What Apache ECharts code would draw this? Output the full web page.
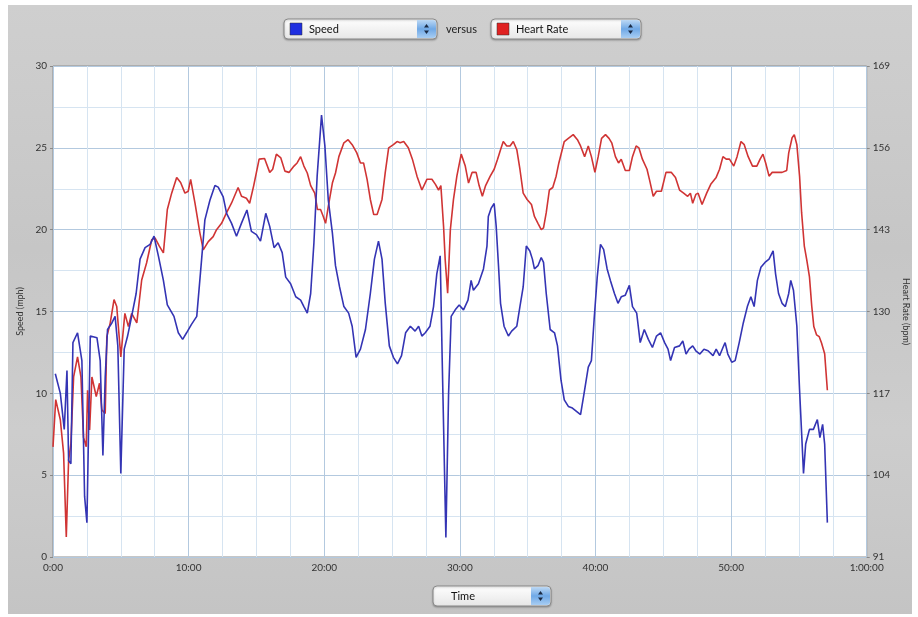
<!DOCTYPE html>
<html>
<head>
<meta charset="utf-8">
<script src="https://cdn.jsdelivr.net/npm/echarts@6/dist/echarts.min.js"></script>
<style>
html,body{margin:0;padding:0;background:#fff;}
#panel{position:absolute;left:8px;top:5px;width:904px;height:609px;
background:linear-gradient(180deg,#cfcfcf 0%,#c6c6c6 40%,#cdcdcd 70%,#c4c4c4 100%);}
#chart{position:absolute;left:0;top:0;width:918px;height:617px;}
</style>
</head>
<body>
<div id="panel"></div>
<div id="chart"></div>
<script>
// Time in minutes
const speedTime = [0.17,0.54,0.83,1.03,1.15,1.32,1.47,1.81,2.13,2.33,2.5,2.75,3.24,3.48,3.68,3.85,4.02,4.34,4.58,4.78,5.0,5.25,5.5,5.8,6.13,6.42,6.79,7.16,7.45,7.77,8.14,8.43,8.92,9.24,9.56,9.85,10.2,10.6,10.96,11.2,11.57,11.94,12.18,12.55,12.8,13.16,13.53,13.9,14.3,14.63,15.0,15.3,15.69,15.98,16.3,16.6,16.9,17.16,17.52,17.9,18.26,18.5,18.75,19.0,19.24,19.48,19.8,20.05,20.3,20.6,20.83,21.13,21.45,21.8,22.06,22.35,22.67,23.04,23.4,23.7,24.0,24.26,24.5,24.8,25.1,25.4,25.7,26.0,26.35,26.7,26.96,27.2,27.45,27.8,28.06,28.3,28.55,28.7,28.97,29.17,29.36,29.66,29.95,30.27,30.6,30.83,31.0,31.37,31.74,32.0,32.1,32.3,32.53,32.68,32.85,33.0,33.26,33.58,33.82,34.2,34.43,34.67,34.9,35.16,35.35,35.5,35.76,36.0,36.17,36.37,36.66,36.98,37.2,37.46,37.7,38.0,38.3,38.6,38.9,39.16,39.47,39.7,39.9,40.13,40.37,40.6,40.86,41.1,41.4,41.66,41.9,42.2,42.5,42.73,43.04,43.3,43.6,43.9,44.2,44.5,44.8,45.1,45.35,45.54,45.83,46.2,46.44,46.68,46.9,47.17,47.4,47.7,48.0,48.3,48.67,48.9,49.15,49.4,49.56,49.76,50.05,50.3,50.6,50.9,51.2,51.46,51.7,51.94,52.2,52.5,52.8,53.1,53.28,53.5,53.76,54.0,54.25,54.4,54.6,54.85,55.05,55.2,55.34,55.5,55.78,56.07,56.36,56.55,56.75,56.9,57.1];
const speedMph = [11.2,10.0,7.8,11.4,5.9,5.7,13.1,13.7,12.0,3.7,2.1,13.5,13.4,12.0,6.2,11.0,13.9,14.3,14.7,12.9,5.1,12.7,13.5,14.7,16.1,18.2,18.9,19.1,19.6,18.4,16.9,15.4,14.7,13.7,13.3,13.7,14.2,14.7,18.2,20.6,21.8,22.7,22.6,22.0,21.0,20.4,19.6,20.4,21.2,19.9,19.7,19.3,21.0,20.2,18.9,19.2,18.6,17.1,16.7,15.9,15.7,15.3,14.9,16.1,19.2,23.3,27.0,25.1,21.8,19.8,17.8,16.5,15.3,14.9,14.1,12.2,12.7,13.9,16.1,18.2,19.3,18.2,15.5,12.9,12.2,11.8,12.3,13.7,14.1,13.8,14.1,13.5,13.7,14.1,15.3,17.3,18.4,12.0,1.2,10.0,14.7,15.1,15.4,15.1,15.7,16.9,16.3,16.7,17.6,19.0,20.8,21.3,21.6,20.2,17.8,15.5,14.1,13.5,13.8,14.1,15.3,16.5,19.0,18.7,18.2,17.6,17.8,18.3,18.0,16.1,13.9,13.7,12.9,10.8,9.6,9.2,9.1,8.9,8.7,10.0,11.6,12.0,14.5,17.1,19.1,18.8,17.6,16.9,16.1,15.5,15.9,16.0,16.6,15.3,14.9,13.1,13.9,13.3,12.8,13.5,13.7,13.1,12.7,12.0,12.8,12.9,13.2,12.4,12.7,12.9,12.6,12.4,12.7,12.6,12.3,12.7,12.3,12.8,13.1,12.4,11.9,12.0,13.1,14.3,15.3,15.9,15.3,16.9,17.7,18.0,18.2,18.7,17.3,16.1,15.5,15.3,16.1,16.9,16.3,14.1,10.2,7.6,5.1,6.9,7.8,7.8,8.4,7.3,8.1,6.9,2.1];
const hrTime = [0,0.2,0.54,0.78,0.98,1.15,1.32,1.52,1.81,2.06,2.25,2.45,2.55,2.7,2.87,3.19,3.43,3.6,3.85,3.97,4.22,4.5,4.7,5.0,5.3,5.56,5.8,6.18,6.54,6.9,7.28,7.52,7.84,8.14,8.43,8.75,9.12,9.41,9.73,9.97,10.15,10.47,10.83,11.08,11.45,11.81,12.06,12.43,12.8,13.16,13.65,13.9,14.26,14.5,14.8,15.2,15.6,15.98,16.2,16.47,16.8,17.1,17.4,17.77,18.0,18.26,18.5,18.75,19.0,19.3,19.5,19.73,19.93,20.1,20.3,20.6,20.83,21.08,21.45,21.76,22.06,22.4,22.67,22.9,23.16,23.4,23.65,23.9,24.26,24.5,24.75,25.1,25.37,25.6,25.86,26.2,26.5,26.84,27.2,27.57,27.94,28.2,28.43,28.6,28.8,28.92,29.1,29.3,29.53,29.78,30.1,30.4,30.64,30.9,31.2,31.42,31.66,31.9,32.0,32.24,32.53,32.78,33.0,33.2,33.46,33.7,33.94,34.2,34.43,34.67,34.96,35.28,35.5,35.76,36.0,36.17,36.37,36.6,36.85,37.1,37.3,37.7,38.0,38.36,38.67,38.9,39.2,39.47,39.7,39.96,40.2,40.45,40.74,41.0,41.2,41.47,41.7,41.9,42.2,42.5,42.73,43.0,43.2,43.46,43.8,44.0,44.26,44.5,44.86,45.2,45.6,45.9,46.2,46.5,46.8,47.0,47.17,47.4,47.57,47.86,48.2,48.5,48.9,49.15,49.4,49.64,49.88,50.2,50.44,50.73,50.97,51.26,51.58,51.9,52.14,52.35,52.55,52.8,53.03,53.4,53.76,54.1,54.25,54.5,54.66,54.85,55.05,55.2,55.4,55.58,55.78,55.95,56.1,56.3,56.5,56.67,56.8,56.9,57.1];
const hrBpm = [108.5,116,112.8,107.5,94.2,106.4,109,119.6,122.8,119.6,110,108.5,117.5,111.2,119.6,116.5,118.6,114.4,113.8,126,128.2,131.9,130.8,122.8,129.7,127.6,129.7,128.2,135,137.7,141.4,141.7,140.4,139.3,146.2,148.8,151.3,150.5,148.8,149.1,151,147.2,142.5,139.8,141.1,141.9,143,144,145.7,147.2,149.7,148.3,148,147.2,150,154.2,154.3,152.1,152.6,155,154.4,152.3,152.1,153.1,153.6,154.6,153.1,152,150,148.8,146.2,146.2,145.1,144,146.7,150.4,152,154.6,156.8,157.3,156.5,155.2,153.6,153.6,151,147.8,145.4,145.4,147.8,152.1,156,156.5,157,156.8,157,156,154.2,151.5,149.3,151,151,150.2,149.3,150,143.5,138.2,132.9,143,147.8,151.5,155,153.1,150.4,152.1,152.1,150,148.3,150,150.2,151.5,152.6,154.2,155.7,157,156.3,156.3,157,155.7,152.6,148.8,147.8,147,145.1,144,143,143.3,145.7,149.3,149.7,151.5,153.6,157,157.5,158.1,157.3,156.3,154.6,156.3,154.6,152.1,154.6,157.5,158.1,157.5,156.8,154.6,153.6,154.2,152.4,152.4,154.6,156.3,156,154.2,152.6,150.8,148.3,149.1,149.1,152.1,152.1,151.3,149.3,148.8,148.3,148.8,147.2,148.6,148.8,147,148.8,150.2,151.3,152.6,154.6,154.2,154.2,153.1,154.6,157,156.5,154.6,153.1,153.1,154.2,155,153.6,151.5,152.1,152.1,152.1,152.4,155.2,157.6,158.1,156.5,151.5,145.7,140.4,138.2,135.5,130.8,127.6,126.3,126,125,125.3,123.3,117.5];
const timeTicks = ['0:00','10:00','20:00','30:00','40:00','50:00','1:00:00'];
const speedTicks = [0,5,10,15,20,25,30];
const hrTicks = [91,104,117,130,143,156,169];

const speedData = speedTime.map((t,i)=>[t,speedMph[i]]);
const hrData = hrTime.map((t,i)=>[t,hrBpm[i]]);

const chart = echarts.init(document.getElementById('chart'), null, {renderer:'canvas'});
const FONT = 'Lato, "DejaVu Sans", sans-serif';

function popup(x,y,w,h,swatch,label){
  const els = [];
  els.push({type:'rect',shape:{x:x,y:y,width:w,height:h,r:4},
    style:{fill:new echarts.graphic.LinearGradient(0,0,0,1,[{offset:0,color:'#ffffff'},{offset:1,color:'#e6e6e6'}]),stroke:'#8a8a8a',lineWidth:1,shadowColor:'rgba(0,0,0,0.25)',shadowBlur:2,shadowOffsetY:1}});
  let tx = x+18;
  if(swatch){
    els.push({type:'rect',shape:{x:x+6,y:y+4,width:12,height:12},style:{fill:swatch,stroke:'#333',lineWidth:0.5}});
    tx = x+25;
  }
  els.push({type:'text',style:{x:tx,y:y+h/2+0.5,text:label,fill:'#111',font:'11px '+FONT,verticalAlign:'middle'}});
  const bx = x+w-20;
  els.push({type:'rect',shape:{x:bx,y:y+1,width:19,height:h-2,r:[0,3,3,0]},
    style:{fill:new echarts.graphic.LinearGradient(0,0,0,1,[{offset:0,color:'#bcd8f4'},{offset:0.5,color:'#6fa8e6'},{offset:1,color:'#a8cdf2'}])}});
  const cx = bx+9.5, cy = y+h/2;
  els.push({type:'polygon',shape:{points:[[cx-2.5,cy-1.5],[cx+2.5,cy-1.5],[cx,cy-5]]},style:{fill:'#1a2a44'}});
  els.push({type:'polygon',shape:{points:[[cx-2.5,cy+1.5],[cx+2.5,cy+1.5],[cx,cy+5]]},style:{fill:'#1a2a44'}});
  return els;
}

const graphics = [].concat(
  popup(284,19,153,20,'#1f2fe0','Speed'),
  [{type:'text',style:{x:446,y:29.5,text:'versus',fill:'#222',font:'11px '+FONT,verticalAlign:'middle'}}],
  popup(491,19,150,20,'#e02222','Heart Rate'),
  popup(433,586,118,20,null,'Time')
);

const option = {
  animation:false,
  backgroundColor:'transparent',
  graphic: graphics,
  grid:{left:53,right:48,top:66,bottom:60,show:true,backgroundColor:'#ffffff',borderColor:'#8c8c8c',borderWidth:1},
  xAxis:{type:'value',min:0,max:60,interval:10,
    axisLine:{show:false},axisTick:{show:false},
    axisLabel:{color:'#333',fontSize:10,fontFamily:FONT,margin:6,
      formatter:(v)=>timeTicks[Math.round(v/10)]},
    splitLine:{show:true,lineStyle:{color:'#b3c9df',width:1}},
    minorTick:{show:false,splitNumber:4},
    minorSplitLine:{show:true,lineStyle:{color:'#d6e4f1',width:1}}
  },
  yAxis:[
    {type:'value',min:0,max:30,interval:5,position:'left',
     name:'Speed (mph)',nameLocation:'middle',nameGap:27,nameRotate:90,
     nameTextStyle:{color:'#333',fontSize:9,fontFamily:FONT},
     axisLine:{show:false},axisTick:{show:true,length:3,lineStyle:{color:'#888'}},
     axisLabel:{color:'#333',fontSize:10,fontFamily:FONT,margin:6,
       formatter:(v)=>String(speedTicks[Math.round(v/5)])},
     splitLine:{show:true,lineStyle:{color:'#b3c9df',width:1}},
     minorTick:{show:false,splitNumber:2},
     minorSplitLine:{show:true,lineStyle:{color:'#d6e4f1',width:1}}
    },
    {type:'value',min:91,max:169,interval:13,position:'right',
     name:'Heart Rate (bpm)',nameLocation:'middle',nameGap:34,nameRotate:-90,
     nameTextStyle:{color:'#333',fontSize:9,fontFamily:FONT},
     axisLine:{show:false},axisTick:{show:true,length:3,lineStyle:{color:'#888'}},
     axisLabel:{color:'#333',fontSize:10,fontFamily:FONT,margin:6,
       formatter:(v)=>String(hrTicks[Math.round((v-91)/13)])},
     splitLine:{show:false}
    }
  ],
  series:[
    {name:'Speed',type:'line',yAxisIndex:0,data:speedData,showSymbol:false,symbol:'none',
     lineStyle:{color:'#3434b4',width:1.6},z:3},
    {name:'Heart Rate',type:'line',yAxisIndex:1,data:hrData,showSymbol:false,symbol:'none',
     lineStyle:{color:'#d03434',width:1.6},z:2}
  ]
};
chart.setOption(option);
</script>
</body>
</html>
